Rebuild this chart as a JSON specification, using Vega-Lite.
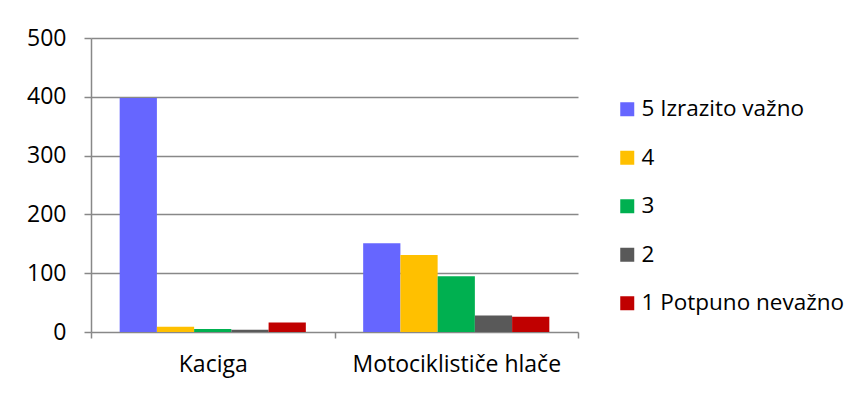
{
  "$schema": "https://vega.github.io/schema/vega-lite/v6.json",
  "width": 487,
  "height": 294,
  "autosize": {"type": "none"},
  "padding": {"left": 91, "top": 38, "right": 287, "bottom": 62},
  "background": "white",
  "data": {
    "values": [
      {"item": "Kaciga", "rating": "5 Izrazito važno", "order": 1, "count": 398},
      {"item": "Kaciga", "rating": "4", "order": 2, "count": 9},
      {"item": "Kaciga", "rating": "3", "order": 3, "count": 5},
      {"item": "Kaciga", "rating": "2", "order": 4, "count": 4},
      {"item": "Kaciga", "rating": "1 Potpuno nevažno", "order": 5, "count": 16},
      {"item": "Motociklističe hlače", "rating": "5 Izrazito važno", "order": 1, "count": 151},
      {"item": "Motociklističe hlače", "rating": "4", "order": 2, "count": 131},
      {"item": "Motociklističe hlače", "rating": "3", "order": 3, "count": 95},
      {"item": "Motociklističe hlače", "rating": "2", "order": 4, "count": 28},
      {"item": "Motociklističe hlače", "rating": "1 Potpuno nevažno", "order": 5, "count": 26}
    ]
  },
  "mark": {"type": "bar"},
  "encoding": {
    "x": {
      "field": "item",
      "type": "nominal",
      "sort": null,
      "title": null,
      "scale": {"paddingInner": 0, "paddingOuter": 0},
      "axis": {
        "labelAngle": 0,
        "labelLimit": 400,
        "tickBand": "extent",
        "tickSize": 6,
        "labelPadding": 15,
        "domain": false,
        "grid": false
      }
    },
    "xOffset": {
      "field": "rating",
      "type": "nominal",
      "sort": {"field": "order"},
      "scale": {"paddingInner": 0, "paddingOuter": 0.77}
    },
    "y": {
      "field": "count",
      "type": "quantitative",
      "title": null,
      "scale": {"domain": [0, 500], "nice": false},
      "axis": {
        "values": [0, 100, 200, 300, 400, 500],
        "tickSize": 7,
        "labelPadding": 18,
        "domain": true
      }
    },
    "color": {
      "field": "rating",
      "type": "nominal",
      "sort": {"field": "order"},
      "title": null,
      "scale": {
        "domain": ["5 Izrazito važno", "4", "3", "2", "1 Potpuno nevažno"],
        "range": ["#6666FF", "#FFC000", "#00B050", "#595959", "#C00000"]
      },
      "legend": {
        "orient": "none",
        "legendX": 525,
        "legendY": 60,
        "symbolType": "square",
        "symbolSize": 196,
        "symbolStrokeWidth": 0,
        "symbolOpacity": 1,
        "labelFontSize": 22.5,
        "labelLimit": 300,
        "labelOffset": 3,
        "rowPadding": 25.5
      }
    }
  },
  "config": {
    "font": "Open Sans",
    "view": {"stroke": null},
    "axis": {
      "labelFont": "Open Sans",
      "labelFontSize": 23,
      "labelColor": "#000000",
      "domainColor": "#888888",
      "tickColor": "#888888",
      "gridColor": "#888888",
      "gridWidth": 1.5,
      "domainWidth": 1.5,
      "tickWidth": 1.5
    },
    "legend": {"labelFont": "Open Sans", "labelColor": "#000000"}
  }
}
